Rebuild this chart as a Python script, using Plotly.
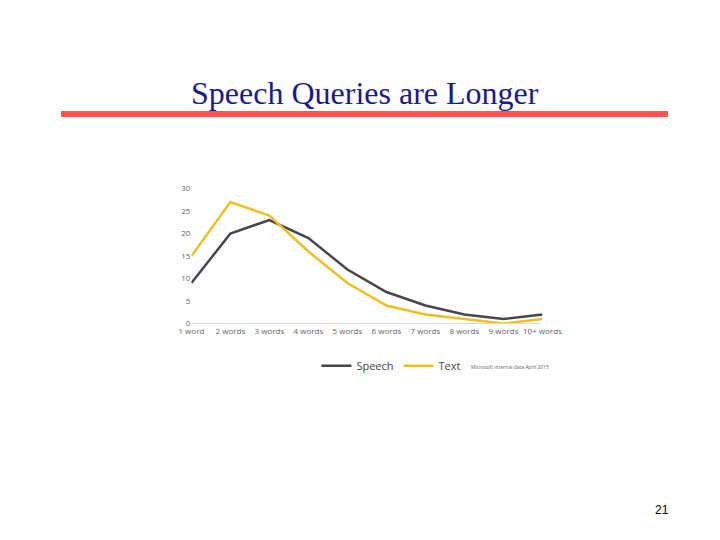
import plotly.graph_objects as go

categories = ["1 word", "2 words", "3 words", "4 words", "5 words",
              "6 words", "7 words", "8 words", "9 words", "10+ words"]
speech = [9, 20, 23, 19, 12, 7, 4, 2, 1, 2]
text = [15, 27, 24, 16, 9, 4, 2, 1, 0, 1]

fig = go.Figure()
fig.add_trace(go.Scatter(x=categories, y=speech, name="Speech", mode="lines",
                         line=dict(color="#44474d", width=2.5)))
fig.add_trace(go.Scatter(x=categories, y=text, name="Text", mode="lines",
                         line=dict(color="#f0c020", width=2.5)))

fig.update_layout(
    width=720, height=540,
    paper_bgcolor="white", plot_bgcolor="white",
    margin=dict(l=0, r=0, t=0, b=0),
    font=dict(family="Open Sans", size=9, color="#666"),
    xaxis=dict(domain=[0.248, 0.759], showgrid=False, zeroline=False,
               showline=True, linecolor="#ddd", ticks="", tickangle=0,
               tickfont=dict(size=8)),
    yaxis=dict(domain=[0.415, 0.670], range=[0, 30], dtick=5, showgrid=False,
               zeroline=False, ticks="", tickfont=dict(size=8)),
    legend=dict(orientation="h", x=0.43, y=0.335, xanchor="left", yanchor="middle",
                font=dict(size=11, color="#444"), itemwidth=30),
    shapes=[dict(type="line", xref="paper", yref="paper", x0=42/720, x1=678/720,
                 y0=1-102/540, y1=1-102/540, line=dict(color="#f4564e", width=6))],
    annotations=[
        dict(text="Speech Queries are Longer", xref="paper", yref="paper",
             x=0.5, y=1-60/540, showarrow=False,
             font=dict(family="Liberation Serif", size=32, color="#1a1a8c")),
        dict(text="Microsoft internal data April 2015", xref="paper", yref="paper",
             x=470/720, y=1-360/540, xanchor="left", showarrow=False,
             font=dict(size=5, color="#666")),
        dict(text="21", xref="paper", yref="paper", x=681/720, y=1-515/540,
             showarrow=False, font=dict(family="Liberation Sans", size=12, color="black")),
    ],
)
fig.write_html("out.html")
